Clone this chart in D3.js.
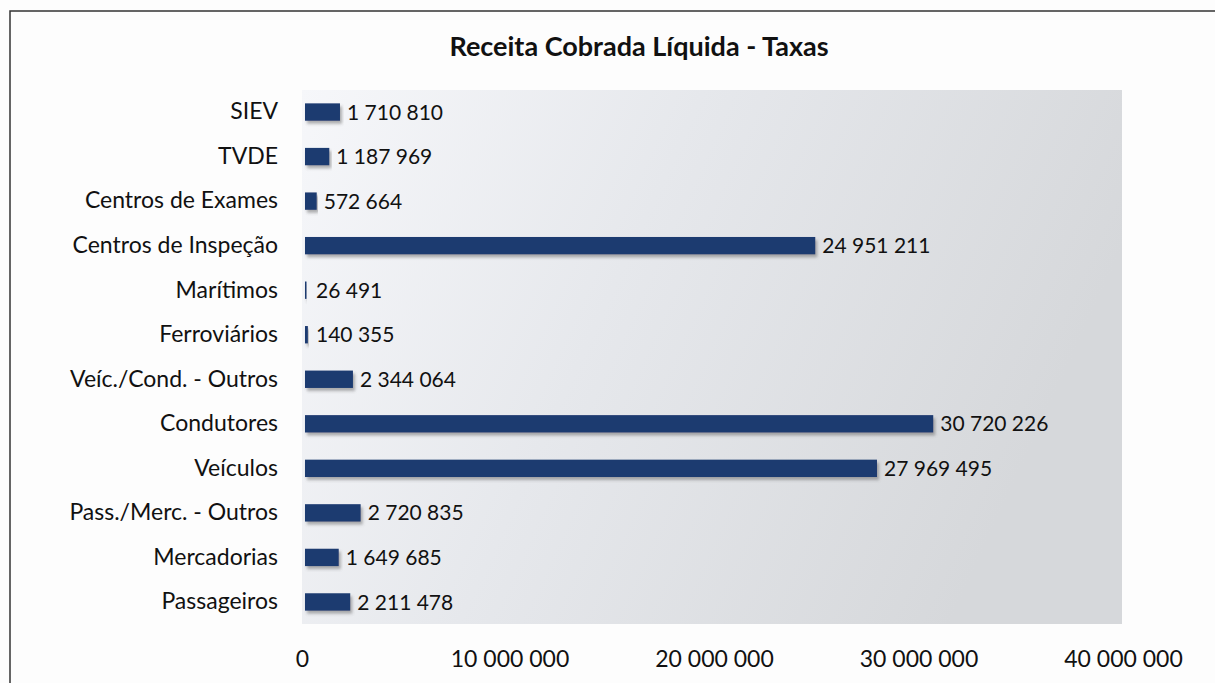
<!DOCTYPE html>
<html>
<head>
<meta charset="utf-8">
<script src="https://cdn.jsdelivr.net/npm/d3@7"></script>
<style>
  body { margin: 0; background: #fdfdfd; }
  text { font-family: Lato, "Open Sans", sans-serif; fill: #111; }
</style>
</head>
<body>
<svg id="chart" width="1215" height="683"></svg>
<script>
// Data

var categories = ["SIEV", "TVDE", "Centros de Exames", "Centros de Inspeção", "Marítimos", "Ferroviários",
  "Veíc./Cond. - Outros", "Condutores", "Veículos", "Pass./Merc. - Outros", "Mercadorias", "Passageiros"];
var values = [1710810, 1187969, 572664, 24951211, 26491, 140355, 2344064, 30720226, 27969495, 2720835, 1649685, 2211478];
var tickValues = [0, 10000000, 20000000, 30000000, 40000000];

// Chart

var svg = d3.select("#chart");
var fmt = function(v) { return d3.format(",")(v).replace(/,/g, " "); };

var plotLeft = 305, plotRight = 1123, plotTop = 90, plotBottom = 624;
var font = "Lato, 'Open Sans', sans-serif";

var defs = svg.append("defs");
var grad = defs.append("linearGradient").attr("id", "bg")
  .attr("x1", "0%").attr("y1", "0%").attr("x2", "100%").attr("y2", "30%");
grad.append("stop").attr("offset", "0%").attr("stop-color", "#f6f7fa");
grad.append("stop").attr("offset", "45%").attr("stop-color", "#e6e8ec");
grad.append("stop").attr("offset", "100%").attr("stop-color", "#d6d8db");

var shadow = defs.append("filter").attr("id", "shadow")
  .attr("x", "-5%").attr("y", "-30%").attr("width", "115%").attr("height", "190%");
shadow.append("feDropShadow").attr("dx", 2).attr("dy", 3).attr("stdDeviation", 1.5)
  .attr("flood-color", "#555").attr("flood-opacity", 0.45);

// outer frame
svg.append("rect").attr("x", 10).attr("y", 11).attr("width", 1230).attr("height", 700)
  .attr("fill", "#fdfdfd").attr("stroke", "#333").attr("stroke-width", 1.5);

var x = d3.scaleLinear().domain([0, 40000000]).range([plotLeft, plotRight]);
var y = d3.scaleBand().domain(categories).range([plotTop, plotBottom]).paddingInner(0.61).paddingOuter(0.3);

// plot area
svg.append("rect").attr("x", plotLeft - 3).attr("y", plotTop).attr("width", plotRight - plotLeft + 2)
  .attr("height", plotBottom - plotTop).attr("fill", "url(#bg)");

svg.append("text").attr("x", 639).attr("y", 56).attr("text-anchor", "middle")
  .style("font-size", "27px").style("font-weight", "bold").text("Receita Cobrada Líquida - Taxas");

svg.selectAll(".bar").data(values).enter().append("rect")
  .attr("class", "bar")
  .attr("x", x(0))
  .attr("y", function(d, i) { return y(categories[i]); })
  .attr("width", function(d) { return Math.max(1.5, x(d) - x(0)); })
  .attr("height", y.bandwidth())
  .attr("fill", "#1d3a70")
  .attr("filter", "url(#shadow)");

svg.selectAll(".val").data(values).enter().append("text")
  .attr("class", "val")
  .attr("x", function(d) { return Math.max(x(0) + 4, x(d)) + 7; })
  .attr("y", function(d, i) { return y(categories[i]) + y.bandwidth() / 2; })
  .attr("dy", "0.36em")
  .style("font-size", "21px")
  .text(fmt);

svg.append("g").attr("transform", "translate(278,0)")
  .call(d3.axisLeft(y).tickSize(0).tickPadding(0))
  .call(function(g) { g.select(".domain").remove(); })
  .selectAll("text").style("font-size", "23px").style("font-family", font)
  .attr("fill", "#111");

svg.append("g").attr("transform", "translate(0,648)")
  .call(d3.axisBottom(x).tickValues(tickValues).tickSize(0).tickFormat(fmt))
  .call(function(g) { g.select(".domain").remove(); })
  .selectAll("text").style("font-size", "23px").style("font-family", font)
  .attr("fill", "#111")
  .attr("dx", function(d) { return d === 0 ? -3 : 0; });
</script>
</body>
</html>
